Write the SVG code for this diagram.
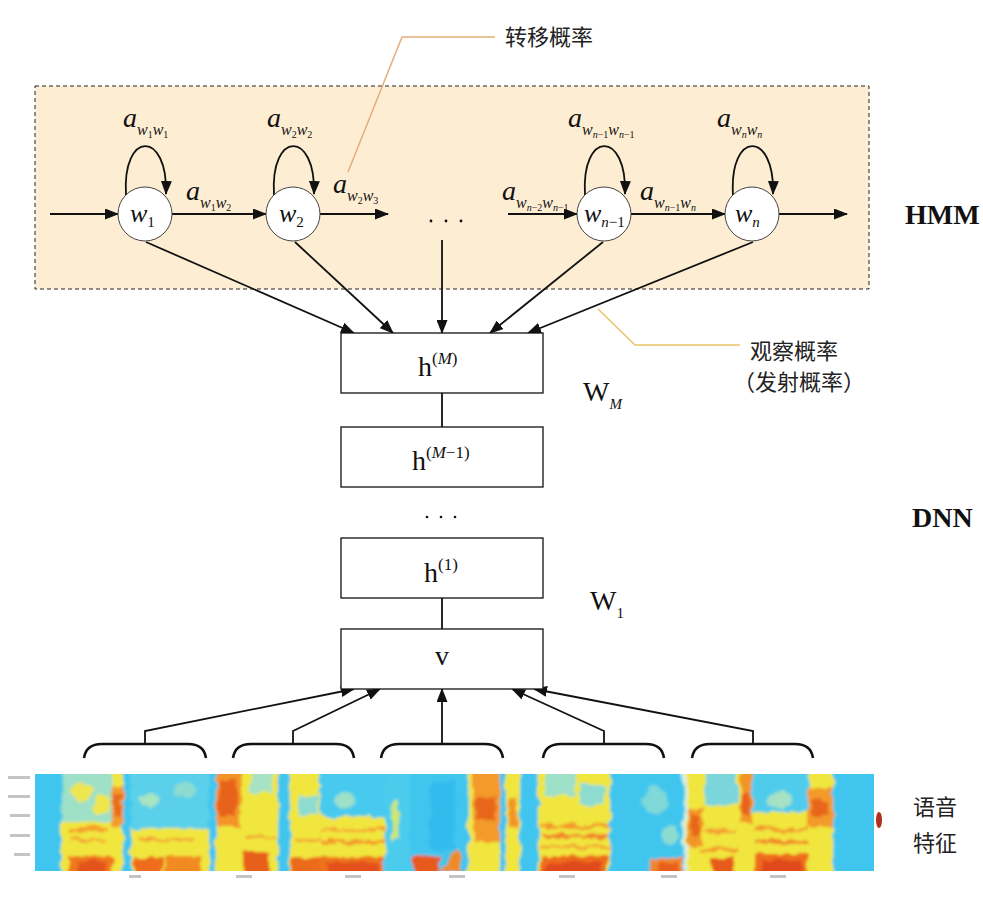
<svg xmlns="http://www.w3.org/2000/svg" width="983" height="897" viewBox="0 0 983 897">
<defs>
<style>
.ln{stroke:#111;stroke-width:1.8;fill:none}
.arr{marker-end:url(#ah)}
.box{fill:#fff;stroke:#111;stroke-width:1.3}
.node{fill:#fff;stroke:#444;stroke-width:1}
.br{stroke:#111;stroke-width:2.6;fill:none}
.a{font-family:"Liberation Serif",serif;font-style:italic;font-size:28px;fill:#111}
.sw{font-size:16px;font-style:italic}
.sd{font-size:10px;font-style:normal}
.sn{font-size:10px;font-style:italic}
.wn{font-family:"Liberation Serif",serif;font-style:italic;font-size:26px;fill:#111}
.wd{font-size:15px;font-style:normal}
.wi{font-size:15px;font-style:italic}
.h{font-family:"Liberation Serif",serif;font-size:28px;fill:#111}
.sup{font-size:17px}
.it{font-style:italic}
.bold{font-family:"Liberation Serif",serif;font-weight:bold;font-size:28px;fill:#111}
.cn{font-family:"Noto Sans CJK SC",sans-serif;font-size:22px;fill:#222}
.tk{fill:#c4c4c4}
</style>
<marker id="ah" markerWidth="14" markerHeight="11" refX="13" refY="5.5" orient="auto" markerUnits="userSpaceOnUse">
<path d="M0,0 L14,5.5 L0,11 z" fill="#111"/>
</marker>
<clipPath id="sp"><rect x="35" y="774" width="839" height="97"/></clipPath>
<filter id="bl" filterUnits="userSpaceOnUse" x="20" y="755" width="880" height="130">
<feTurbulence type="fractalNoise" baseFrequency="0.09" numOctaves="2" seed="3" result="n"/>
<feDisplacementMap in="SourceGraphic" in2="n" scale="9" xChannelSelector="R" yChannelSelector="G" result="d"/>
<feGaussianBlur in="d" stdDeviation="1.8"/>
</filter>
</defs>

<rect id="hmm-panel" x="35" y="86" width="834" height="203" fill="#fdeed3" stroke="#222" stroke-width="1" stroke-dasharray="4,3"/>

<g id="leaders">
<polyline points="348,172 402,37 495,37" fill="none" stroke="#e5ad7c" stroke-width="1.5"/>
<polyline points="598,309 635,345 740,345" fill="none" stroke="#e8c468" stroke-width="1.5"/>
</g>

<g id="connectors">
<line class="ln arr" x1="50" y1="214" x2="118" y2="214"/>
<line class="ln arr" x1="172" y1="214" x2="266" y2="214"/>
<line class="ln arr" x1="320" y1="214" x2="388" y2="214"/>
<line class="ln arr" x1="508" y1="214" x2="577" y2="214"/>
<line class="ln arr" x1="631" y1="214" x2="725" y2="214"/>
<line class="ln arr" x1="779" y1="214" x2="847" y2="214"/>
<path class="ln arr" d="M126,195 C122,130 168,130 166,194"/>
<path class="ln arr" d="M274,195 C270,130 316,130 314,194"/>
<path class="ln arr" d="M585,195 C581,130 627,130 625,194"/>
<path class="ln arr" d="M733,195 C729,130 775,130 773,194"/>
<line class="ln arr" x1="146" y1="242" x2="354" y2="333"/>
<line class="ln arr" x1="295" y1="242" x2="393" y2="333"/>
<line class="ln arr" x1="442" y1="240" x2="442" y2="333"/>
<line class="ln arr" x1="603" y1="242" x2="490" y2="333"/>
<line class="ln arr" x1="753" y1="242" x2="528" y2="333"/>
<line class="ln" x1="442" y1="393" x2="442" y2="427"/>
<line class="ln" x1="442" y1="598" x2="442" y2="629"/>
<polyline class="ln arr" points="145,744 145,731 354,689"/>
<polyline class="ln arr" points="293,744 293,731 380,689"/>
<line class="ln arr" x1="442" y1="744" x2="442" y2="689"/>
<polyline class="ln arr" points="604,744 604,731 512,689"/>
<polyline class="ln arr" points="753,744 753,731 534,689"/>
</g>

<g id="node-w1"><circle class="node" cx="145" cy="214" r="27"/><text class="wn" x="130" y="222">w<tspan class="wd" dy="5">1</tspan></text></g>
<g id="node-w2"><circle class="node" cx="293" cy="214" r="27"/><text class="wn" x="279" y="222">w<tspan class="wd" dy="5">2</tspan></text></g>
<g id="node-wn1"><circle class="node" cx="604" cy="214" r="27"/><text class="wn" x="584" y="222">w<tspan class="wi" dy="5">n</tspan><tspan class="wd">−1</tspan></text></g>
<g id="node-wn"><circle class="node" cx="752" cy="214" r="27"/><text class="wn" x="735" y="222">w<tspan class="wi" dy="5">n</tspan></text></g>
<g id="dots-hmm" fill="#111"><circle cx="431" cy="221" r="1.4"/><circle cx="446" cy="221" r="1.4"/><circle cx="461" cy="221" r="1.4"/></g>

<g id="labels-a">
<text class="a" x="123" y="127">a<tspan class="sw" dy="8">w</tspan><tspan class="sd" dy="3">1</tspan><tspan class="sw" dy="-3">w</tspan><tspan class="sd" dy="3">1</tspan></text>
<text class="a" x="186" y="200">a<tspan class="sw" dy="8">w</tspan><tspan class="sd" dy="3">1</tspan><tspan class="sw" dy="-3">w</tspan><tspan class="sd" dy="3">2</tspan></text>
<text class="a" x="267" y="127">a<tspan class="sw" dy="8">w</tspan><tspan class="sd" dy="3">2</tspan><tspan class="sw" dy="-3">w</tspan><tspan class="sd" dy="3">2</tspan></text>
<text class="a" x="333" y="193">a<tspan class="sw" dy="8">w</tspan><tspan class="sd" dy="3">2</tspan><tspan class="sw" dy="-3">w</tspan><tspan class="sd" dy="3">3</tspan></text>
<text class="a" x="568" y="127">a<tspan class="sw" dy="8">w</tspan><tspan class="sn" dy="3">n</tspan><tspan class="sd">−1</tspan><tspan class="sw" dy="-3">w</tspan><tspan class="sn" dy="3">n</tspan><tspan class="sd">−1</tspan></text>
<text class="a" x="717" y="127">a<tspan class="sw" dy="8">w</tspan><tspan class="sn" dy="3">n</tspan><tspan class="sw" dy="-3">w</tspan><tspan class="sn" dy="3">n</tspan></text>
<text class="a" x="502" y="200">a<tspan class="sw" dy="8">w</tspan><tspan class="sn" dy="3">n</tspan><tspan class="sd">−2</tspan><tspan class="sw" dy="-3">w</tspan><tspan class="sn" dy="3">n</tspan><tspan class="sd">−1</tspan></text>
<text class="a" x="640" y="200">a<tspan class="sw" dy="8">w</tspan><tspan class="sn" dy="3">n</tspan><tspan class="sd">−1</tspan><tspan class="sw" dy="-3">w</tspan><tspan class="sn" dy="3">n</tspan></text>
</g>

<g id="box-hM"><rect class="box" x="341" y="333" width="202" height="60"/><text class="h" x="418" y="376">h<tspan class="sup" dy="-12">(<tspan class="it">M</tspan>)</tspan></text></g>
<g id="box-hM1"><rect class="box" x="341" y="427" width="202" height="60"/><text class="h" x="412" y="470">h<tspan class="sup" dy="-12">(<tspan class="it">M</tspan>−1)</tspan></text></g>
<g id="dots-dnn" fill="#111"><circle cx="427" cy="517" r="1.3"/><circle cx="441" cy="517" r="1.3"/><circle cx="455" cy="517" r="1.3"/></g>
<g id="box-h1"><rect class="box" x="341" y="538" width="202" height="60"/><text class="h" x="424" y="582">h<tspan class="sup" dy="-12">(1)</tspan></text></g>
<g id="box-v"><rect class="box" x="341" y="629" width="202" height="60"/><text class="h" x="442" y="665" text-anchor="middle" font-size="26">v</text></g>

<g id="weights">
<text class="h" x="583" y="401">W<tspan class="it" font-size="15" dy="8">M</tspan></text>
<text class="h" x="590" y="610" font-size="27">W<tspan font-size="15" dy="8">1</tspan></text>
</g>

<g id="side-labels">
<text class="bold" x="905" y="224">HMM</text>
<text class="bold" x="912" y="527">DNN</text>
<text class="cn" x="505" y="45">转移概率</text>
<text class="cn" x="750" y="359">观察概率</text>
<text class="cn" x="733" y="390">（发射概率）</text>
<text class="cn" x="913" y="815" font-size="27">语音</text>
<text class="cn" x="913" y="851" font-size="27">特征</text>
</g>

<g id="brackets">
<path class="br" d="M84,758 Q86,744 102,744 H188 Q204,744 206,758"/>
<path class="br" d="M233,758 Q235,744 251,744 H336 Q352,744 354,758"/>
<path class="br" d="M381,758 Q383,744 399,744 H485 Q501,744 503,758"/>
<path class="br" d="M543,758 Q545,744 561,744 H646 Q662,744 664,758"/>
<path class="br" d="M692,758 Q694,744 710,744 H795 Q811,744 813,758"/>
</g>

<g id="spectrogram">
<rect x="35" y="774" width="839" height="97" fill="#f0e63e"/>
<g clip-path="url(#sp)"><g filter="url(#bl)">
<rect x="20" y="760" width="870" height="125" fill="#f0e63e"/>
<rect x="20" y="760" width="42" height="125" fill="#3fc6ee"/>
<rect x="62" y="765" width="50" height="57" fill="#9ee0c8"/>
<ellipse cx="82" cy="792" rx="12" ry="9" fill="#eee650"/>
<ellipse cx="102" cy="805" rx="9" ry="10" fill="#f0e64a"/>
<rect x="68" y="828" width="40" height="4" fill="#f5a22a"/>
<rect x="70" y="838" width="36" height="3" fill="#f4a030"/>
<rect x="68" y="856" width="44" height="25" fill="#f0781e"/>
<rect x="78" y="861" width="26" height="20" fill="#e4521a"/>
<rect x="112" y="786" width="11" height="40" fill="#f39a2a"/>
<rect x="114" y="794" width="7" height="22" fill="#ea6a1e"/>
<rect x="123" y="760" width="8" height="125" fill="#3fc6ee"/>
<rect x="131" y="765" width="78" height="63" fill="#5ad0ea"/>
<ellipse cx="150" cy="800" rx="10" ry="8" fill="#a8e4c0"/>
<ellipse cx="185" cy="790" rx="12" ry="7" fill="#8edcd0"/>
<rect x="140" y="838" width="55" height="3" fill="#f4a030"/>
<rect x="133" y="857" width="30" height="24" fill="#ee6c1c"/>
<rect x="165" y="856" width="36" height="25" fill="#f28a24"/>
<rect x="209" y="760" width="7" height="125" fill="#3fc6ee"/>
<rect x="216" y="765" width="25" height="63" fill="#f39528"/>
<rect x="219" y="780" width="18" height="36" fill="#e8621c"/>
<rect x="250" y="765" width="22" height="27" fill="#a6e2c4"/>
<rect x="245" y="836" width="30" height="3" fill="#f4a030"/>
<rect x="243" y="852" width="26" height="29" fill="#e85e1a"/>
<rect x="278" y="760" width="12" height="125" fill="#3fc6ee"/>
<rect x="298" y="795" width="20" height="20" fill="#8edcd0"/>
<rect x="295" y="838" width="25" height="3" fill="#f4a030"/>
<rect x="292" y="858" width="28" height="23" fill="#ec6a1c"/>
<rect x="320" y="765" width="65" height="52" fill="#46caee"/>
<ellipse cx="345" cy="800" rx="10" ry="8" fill="#9ee0c8"/>
<rect x="320" y="828" width="65" height="3" fill="#f4a030"/>
<rect x="320" y="840" width="65" height="4" fill="#f39a2a"/>
<rect x="320" y="857" width="65" height="24" fill="#ee721e"/>
<rect x="326" y="862" width="54" height="19" fill="#e4501a"/>
<rect x="385" y="760" width="25" height="125" fill="#4cccec"/>
<rect x="392" y="800" width="6" height="40" fill="#cde86a"/>
<rect x="410" y="760" width="58" height="125" fill="#3fc6ee"/>
<rect x="430" y="780" width="25" height="70" fill="#33bcee"/>
<rect x="413" y="856" width="27" height="25" fill="#e85a1a"/>
<path d="M440,872 L458,848 L462,872 z" fill="#f08a24"/>
<rect x="468" y="760" width="5" height="125" fill="#f0e64a"/>
<rect x="473" y="765" width="27" height="77" fill="#f39a2a"/>
<rect x="476" y="798" width="20" height="22" fill="#e8661c"/>
<rect x="500" y="760" width="6" height="125" fill="#3fc6ee"/>
<rect x="508" y="798" width="10" height="30" fill="#f39528"/>
<rect x="520" y="760" width="18" height="125" fill="#3fc6ee"/>
<rect x="545" y="765" width="30" height="30" fill="#9ee0c8"/>
<rect x="580" y="785" width="25" height="20" fill="#8edcd0"/>
<rect x="540" y="824" width="70" height="4" fill="#f39a2a"/>
<rect x="540" y="834" width="70" height="4" fill="#f0882a"/>
<rect x="540" y="845" width="70" height="3" fill="#f4a030"/>
<rect x="540" y="856" width="68" height="25" fill="#ee6c1c"/>
<rect x="546" y="862" width="55" height="19" fill="#e0481a"/>
<rect x="610" y="760" width="73" height="125" fill="#3fc6ee"/>
<ellipse cx="655" cy="800" rx="12" ry="15" fill="#80d8d8"/>
<ellipse cx="670" cy="835" rx="8" ry="10" fill="#8edcd0"/>
<rect x="650" y="858" width="32" height="23" fill="#f0882a"/>
<rect x="658" y="863" width="20" height="18" fill="#e85e1c"/>
<rect x="683" y="760" width="4" height="125" fill="#d8f0e0"/>
<rect x="688" y="808" width="14" height="38" fill="#f39528"/>
<rect x="690" y="815" width="9" height="20" fill="#e8661c"/>
<rect x="705" y="765" width="32" height="40" fill="#7ad6da"/>
<rect x="705" y="830" width="32" height="3" fill="#f4a030"/>
<rect x="700" y="848" width="40" height="4" fill="#f39a2a"/>
<rect x="712" y="857" width="22" height="24" fill="#e85a1a"/>
<rect x="740" y="765" width="13" height="57" fill="#f39528"/>
<rect x="742" y="795" width="9" height="20" fill="#e8621c"/>
<rect x="753" y="765" width="55" height="47" fill="#50ccec"/>
<ellipse cx="780" cy="800" rx="12" ry="8" fill="#a6e2c4"/>
<rect x="755" y="828" width="53" height="4" fill="#f39a2a"/>
<rect x="755" y="840" width="53" height="4" fill="#f0882a"/>
<rect x="755" y="854" width="53" height="27" fill="#ee6c1c"/>
<rect x="762" y="860" width="40" height="21" fill="#e0481a"/>
<rect x="807" y="788" width="26" height="40" fill="#f39a2a"/>
<rect x="811" y="800" width="18" height="16" fill="#e8661c"/>
<rect x="833" y="760" width="55" height="125" fill="#3fc6ee"/>
</g></g>
<ellipse cx="879" cy="820" rx="3" ry="8" fill="#b0301e"/>
<g id="ticks">
<rect class="tk" x="8" y="776" width="22" height="3"/>
<rect class="tk" x="8" y="795" width="22" height="3"/>
<rect class="tk" x="10" y="814" width="20" height="3"/>
<rect class="tk" x="10" y="834" width="20" height="3"/>
<rect class="tk" x="14" y="853" width="16" height="3"/>
<rect class="tk" x="129" y="875" width="12" height="3"/>
<rect class="tk" x="236" y="875" width="16" height="3"/>
<rect class="tk" x="345" y="875" width="16" height="3"/>
<rect class="tk" x="449" y="875" width="16" height="3"/>
<rect class="tk" x="559" y="875" width="16" height="3"/>
<rect class="tk" x="661" y="875" width="16" height="3"/>
<rect class="tk" x="770" y="875" width="16" height="3"/>
</g>
</g>
</svg>
